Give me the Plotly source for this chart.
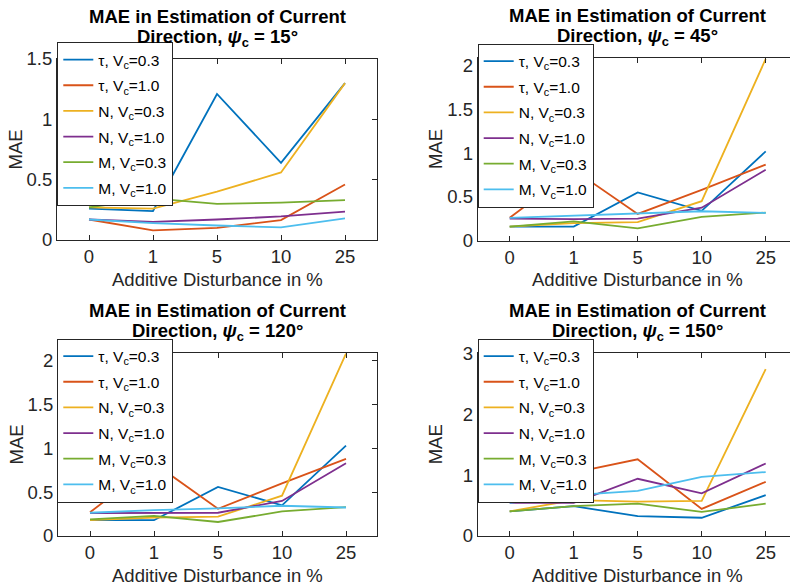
import plotly.graph_objects as go

# ---------------- data ----------------
categories = ["0", "1", "5", "10", "25"]
series_names = ["τ, V<sub>c</sub>=0.3", "τ, V<sub>c</sub>=1.0",
                "N, V<sub>c</sub>=0.3", "N, V<sub>c</sub>=1.0",
                "M, V<sub>c</sub>=0.3", "M, V<sub>c</sub>=1.0"]
colors = ["#0072BD", "#D95319", "#EDB120", "#7E2F8E", "#77AC30", "#4DBEEE"]
angles = ["15", "45", "120", "150"]

# psi_c = 15 deg
tau03_15 = [0.26, 0.24, 1.21, 0.64, 1.30]
tau10_15 = [0.17, 0.08, 0.10, 0.165, 0.46]
n03_15 = [0.27, 0.26, 0.40, 0.56, 1.30]
n10_15 = [0.17, 0.15, 0.17, 0.195, 0.235]
m03_15 = [0.27, 0.345, 0.30, 0.31, 0.33]
m10_15 = [0.17, 0.14, 0.12, 0.105, 0.18]

# psi_c = 45 deg
tau03_45 = [0.16, 0.16, 0.55, 0.34, 1.02]
tau10_45 = [0.26, 0.81, 0.305, 0.58, 0.87]
n03_45 = [0.16, 0.20, 0.21, 0.45, 2.08]
n10_45 = [0.25, 0.245, 0.25, 0.375, 0.81]
m03_45 = [0.16, 0.22, 0.14, 0.27, 0.32]
m10_45 = [0.26, 0.285, 0.305, 0.335, 0.315]

# psi_c = 120 deg
tau03_120 = [0.18, 0.18, 0.56, 0.35, 1.03]
tau10_120 = [0.27, 0.83, 0.31, 0.60, 0.88]
n03_120 = [0.18, 0.21, 0.22, 0.46, 2.08]
n10_120 = [0.26, 0.26, 0.265, 0.40, 0.83]
m03_120 = [0.19, 0.23, 0.16, 0.28, 0.33]
m10_120 = [0.265, 0.295, 0.315, 0.345, 0.325]

# psi_c = 150 deg
tau03_150 = [0.405, 0.49, 0.325, 0.30, 0.67]
tau10_150 = [0.545, 1.04, 1.26, 0.445, 0.89]
n03_150 = [0.405, 0.59, 0.565, 0.576, 2.74]
n10_150 = [0.545, 0.545, 0.94, 0.70, 1.19]
m03_150 = [0.405, 0.49, 0.53, 0.395, 0.53]
m10_150 = [0.545, 0.67, 0.74, 0.97, 1.05]

panels = [
    [tau03_15, tau10_15, n03_15, n10_15, m03_15, m10_15],
    [tau03_45, tau10_45, n03_45, n10_45, m03_45, m10_45],
    [tau03_120, tau10_120, n03_120, n10_120, m03_120, m10_120],
    [tau03_150, tau10_150, n03_150, n10_150, m03_150, m10_150],
]
y_max = [1.5, 2.087, 2.087, 3.0]
y_dtick = [0.5, 0.5, 0.5, 1.0]

# ---------------- layout (pixels) ----------------
W, H = 790, 587
# (left, right, top, bottom) in px
boxes = [
    (57, 377, 59, 240),
    (477.7, 790, 58.3, 240.5),
    (58, 377, 353, 536),
    (477.7, 790, 353.3, 536),
]
# full (unclipped) axis width in MATLAB = 320 px -> centre for titles
centers = [217, 637.5, 217.5, 637.5]
legend_pos = [(57.3, 42), (477.7, 43.5), (57.3, 338.5), (477.7, 338.5)]
x_spacing = 64.0

FONT = "Liberation Sans, Arial, Helvetica, sans-serif"
AX = "#262626"

fig = go.Figure()
x_idx = list(range(len(categories)))

for p in range(4):
    suffix = "" if p == 0 else str(p + 1)
    leg = "legend" if p == 0 else "legend" + str(p + 1)
    for s in range(6):
        fig.add_trace(go.Scatter(
            x=x_idx, y=panels[p][s], mode="lines", name=series_names[s],
            line=dict(color=colors[s], width=1.8),
            xaxis="x" + suffix, yaxis="y" + suffix, legend=leg,
            legendgroup="g%d_%d" % (p, s), showlegend=True))

    l, r, t, b = boxes[p]
    xr = [-0.5, -0.5 + (r - l) / x_spacing]
    right_clipped = r >= W
    fig.layout["xaxis" + suffix] = dict(
        domain=[l / W, r / W], range=xr, tickvals=x_idx, ticktext=categories,
        showline=True, linecolor=AX, linewidth=1, mirror="ticks",
        ticks="inside", ticklen=5, tickcolor=AX, showgrid=False, zeroline=False,
        tickfont=dict(family=FONT, size=18.5, color=AX),
        anchor="y" + suffix, fixedrange=True, automargin=False)
    fig.layout["yaxis" + suffix] = dict(
        domain=[(H - b) / H, (H - t) / H], range=[0, y_max[p]],
        dtick=y_dtick[p], tick0=0,
        showline=True, linecolor=AX, linewidth=1,
        mirror=False if right_clipped else "ticks",
        ticks="inside", ticklen=5, tickcolor=AX, showgrid=False, zeroline=False,
        tickfont=dict(family=FONT, size=18.5, color=AX),
        anchor="x" + suffix, fixedrange=True, automargin=False)

    lx, ly = legend_pos[p]
    fig.layout[leg] = dict(
        x=lx / W, y=1 - ly / H, xanchor="left", yanchor="top",
        xref="paper", yref="paper",
        bgcolor="white", bordercolor=AX, borderwidth=1,
        font=dict(family=FONT, size=15.5, color="black"),
        tracegroupgap=2.5, itemwidth=30)

annotations = []
for p in range(4):
    l, r, t, b = boxes[p]
    cx = centers[p]
    annotations.append(dict(
        x=cx / W, y=1 - (t - 43) / H, xref="paper", yref="paper",
        text="<b>MAE in Estimation of Current</b>", showarrow=False,
        xanchor="center", yanchor="middle",
        font=dict(family=FONT, size=18.5, color="black")))
    annotations.append(dict(
        x=cx / W, y=1 - (t - 21) / H, xref="paper", yref="paper",
        text="<b>Direction, <i>ψ</i><sub>c</sub> = " + angles[p] + "°</b>",
        showarrow=False, xanchor="center", yanchor="middle",
        font=dict(family=FONT, size=18.5, color="black")))
    annotations.append(dict(
        x=cx / W, y=1 - (b + 39) / H, xref="paper", yref="paper",
        text="Additive Disturbance in %", showarrow=False,
        xanchor="center", yanchor="middle",
        font=dict(family=FONT, size=18.5, color=AX)))
    annotations.append(dict(
        x=(l - 42) / W, y=1 - ((t + b) / 2) / H, xref="paper", yref="paper",
        text="MAE", showarrow=False, textangle=-90,
        xanchor="center", yanchor="middle",
        font=dict(family=FONT, size=18.5, color=AX)))

fig.update_layout(
    width=W, height=H,
    margin=dict(l=0, r=0, t=0, b=0, pad=0, autoexpand=False),
    paper_bgcolor="white", plot_bgcolor="white",
    annotations=annotations, font=dict(family=FONT))

fig.write_html("out.html", config={"displayModeBar": False})
